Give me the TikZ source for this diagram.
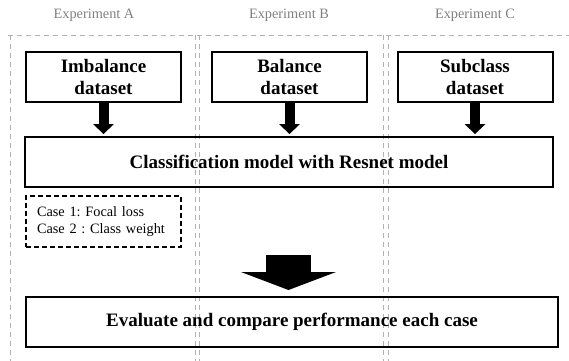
\documentclass[tikz,border=0pt]{standalone}
\usepackage{fontspec}
\setmainfont{Liberation Serif}
\usetikzlibrary{arrows.meta}
\frenchspacing

\begin{document}
\begin{tikzpicture}[x=1pt, y=-1pt,
  colframe/.style={draw=black!30, line width=0.9pt, dash pattern=on 5pt off 4pt},
  explabel/.style={text=black!50, inner sep=0pt, font=\fontsize{14.3}{17}\selectfont},
  databox/.style={draw, line width=2pt, minimum width=155pt, minimum height=50pt,
    inner sep=0pt, align=center, font=\fontsize{19}{22}\selectfont\bfseries},
  casebox/.style={draw, line width=1.4pt, dash pattern=on 5pt off 3pt, minimum height=51pt,
    inner xsep=11pt, text width=133pt, align=left, font=\fontsize{14.3}{17}\selectfont},
  smallarrow/.style={line width=10pt, -{Triangle[width=21pt,length=10pt,line width=0pt]}, shorten >=2pt},
  bigarrow/.style={line width=45pt, -{Triangle[width=95pt,length=18pt,line width=0pt]}, shorten >=6pt}]
  \useasboundingbox (0,0) rectangle (569,360);
  \clip (0,0) rectangle (569,360);

  % experiment columns
  \draw[colframe] (8,35) -- (569,35);
  \foreach \x in {10,195,199,383,388}
    \draw[colframe] (\x,35) -- (\x,365);
  \node[explabel] (expA) at (94,15)  {Experiment A};
  \node[explabel] (expB) at (289,15) {Experiment B};
  \node[explabel] (expC) at (475,15) {Experiment C};

  % datasets
  \node[databox] (imb) at (103.5,77) {Imbalance\\dataset};
  \node[databox] (bal) at (289.5,77) {Balance\\dataset};
  \node[databox] (sub) at (475,77)   {Subclass\\dataset};

  \node[databox, minimum width=528pt] (cls) at (289,162) {Classification model with Resnet model};
  \node[casebox] (cases) at (103.5,221.5) {Case 1: Focal loss\\Case 2 : Class weight};
  \node[databox, minimum width=532pt] (eval) at (292,322) {Evaluate and compare performance each case};

  \draw[smallarrow] (imb) -- (imb |- cls.north);
  \draw[smallarrow] (bal) -- (bal |- cls.north);
  \draw[smallarrow] (sub) -- (sub |- cls.north);

  \coordinate (bigtail) at (288.5,255);
  \draw[bigarrow] (bigtail) -- (bigtail |- eval.north);
\end{tikzpicture}
\end{document}
